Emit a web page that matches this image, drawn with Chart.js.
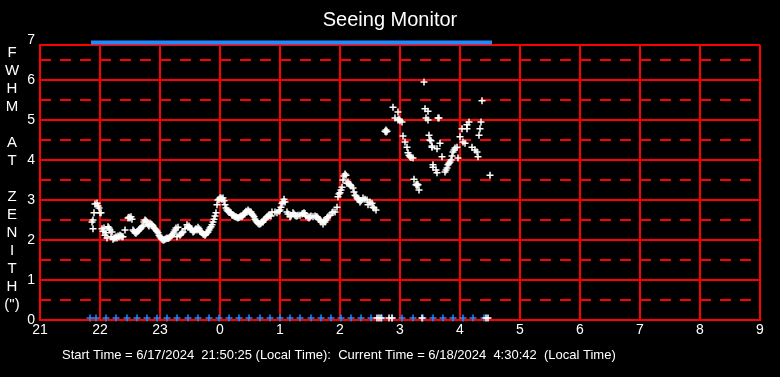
<!DOCTYPE html>
<html>
<head>
<meta charset="utf-8">
<title>Seeing Monitor</title>
<script src="https://cdn.jsdelivr.net/npm/chart.js@4.4.1/dist/chart.umd.min.js"></script>
<style>
  html, body { margin: 0; padding: 0; background: #000; }
</style>
</head>
<body>
<canvas id="seeingChart" width="780" height="377"></canvas>
<script>
// minutes after 21:00 local time
const sampleMinutes = [
  52, 53, 53, 54, 55, 57, 58, 59, 60, 61,
  62, 63, 64, 65, 66, 67, 68, 69, 70, 71,
  72, 73, 74, 75, 76, 77, 78, 79, 80, 81,
  82, 83, 85, 88, 89, 90, 91, 92, 93, 94,
  95, 96, 97, 98, 99, 100, 101, 102, 103, 104,
  105, 106, 107, 108, 109, 110, 111, 112, 113, 114,
  115, 116, 117, 118, 119, 120, 121, 122, 123, 124,
  125, 126, 127, 128, 129, 130, 131, 132, 133, 134,
  135, 136, 137, 138, 140, 141, 142, 143, 145, 147,
  148, 149, 150, 151, 152, 153, 154, 155, 156, 157,
  158, 159, 160, 161, 162, 163, 164, 165, 166, 167,
  168, 169, 170, 171, 172, 173, 174, 175, 176, 177,
  178, 179, 180, 181, 182, 183, 184, 185, 186, 187,
  188, 189, 190, 191, 192, 193, 194, 195, 196, 197,
  198, 199, 200, 201, 202, 203, 204, 205, 206, 207,
  208, 209, 210, 211, 212, 213, 214, 215, 216, 217,
  218, 219, 220, 221, 222, 223, 224, 225, 226, 227,
  228, 229, 230, 231, 232, 235, 237, 239, 240, 241,
  242, 243, 244, 245, 247, 248, 250, 251, 253, 254,
  255, 256, 257, 258, 260, 262, 263, 264, 265, 266,
  268, 269, 270, 271, 273, 275, 276, 277, 278, 279,
  280, 281, 283, 284, 285, 286, 287, 288, 290, 292,
  293, 295, 297, 298, 299, 300, 301, 302, 303, 304,
  305, 306, 307, 308, 309, 310, 311, 313, 314, 315,
  316, 317, 318, 319, 320, 321, 323, 325, 327, 328,
  330, 332, 333, 334, 336, 337, 339, 341, 345, 346,
  346, 347, 349, 352, 353, 355, 358, 358, 359, 360,
  362, 363, 365, 367, 368, 369, 370, 371, 373, 374,
  376, 377, 377, 378, 379, 382, 384, 385, 386, 388,
  388, 389, 390, 391, 392, 392, 393, 393, 396, 397,
  397, 398, 399, 400, 402, 405, 406, 407, 408, 409,
  410, 411, 412, 413, 414, 415, 417, 418, 420, 422,
  423, 425, 427, 427, 429, 432, 435, 437, 438, 439,
  440, 441, 442, 446, 448, 450
];
// FWHM at zenith (arcsec)
const fwhmValues = [
  2.45, 2.28, 2.50, 2.68, 2.90, 2.92, 2.85, 2.80, 2.68, 2.68,
  2.28, 2.22, 2.30, 2.12, 2.18, 2.05, 2.33, 2.30, 2.25, 2.08,
  2.20, 2.02, 2.05, 2.05, 2.08, 2.05, 2.10, 2.08, 2.12, 2.10,
  2.08, 2.08, 2.25, 2.55, 2.57, 2.55, 2.58, 2.52, 2.25, 2.22,
  2.18, 2.17, 2.20, 2.22, 2.25, 2.28, 2.30, 2.33, 2.35, 2.45,
  2.50, 2.48, 2.45, 2.38, 2.35, 2.40, 2.40, 2.38, 2.35, 2.30,
  2.28, 2.25, 2.22, 2.18, 2.12, 2.08, 2.05, 2.02, 2.00, 2.00,
  2.02, 2.03, 2.05, 2.04, 2.05, 2.07, 2.10, 2.12, 2.15, 2.20,
  2.25, 2.30, 2.08, 2.32, 2.12, 2.15, 2.18, 2.20, 2.28, 2.38,
  2.32, 2.35, 2.30, 2.28, 2.25, 2.20, 2.22, 2.25, 2.28, 2.25,
  2.32, 2.28, 2.22, 2.20, 2.18, 2.15, 2.14, 2.12, 2.15, 2.18,
  2.20, 2.25, 2.30, 2.33, 2.38, 2.45, 2.52, 2.60, 2.68, 2.88,
  3.00, 3.02, 3.05, 3.05, 3.02, 3.05, 2.98, 2.88, 2.80, 2.75,
  2.72, 2.70, 2.70, 2.68, 2.62, 2.62, 2.60, 2.58, 2.58, 2.56,
  2.55, 2.56, 2.58, 2.60, 2.58, 2.62, 2.65, 2.68, 2.72, 2.70,
  2.75, 2.72, 2.70, 2.70, 2.65, 2.62, 2.58, 2.52, 2.48, 2.45,
  2.42, 2.40, 2.40, 2.42, 2.45, 2.45, 2.50, 2.52, 2.55, 2.58,
  2.60, 2.62, 2.62, 2.60, 2.70, 2.70, 2.68, 2.72, 2.75, 2.82,
  2.92, 2.95, 3.02, 2.95, 2.70, 2.65, 2.58, 2.60, 2.68, 2.65,
  2.62, 2.60, 2.60, 2.62, 2.62, 2.65, 2.66, 2.68, 2.66, 2.60,
  2.57, 2.55, 2.58, 2.60, 2.58, 2.60, 2.58, 2.58, 2.55, 2.52,
  2.50, 2.45, 2.40, 2.48, 2.45, 2.50, 2.55, 2.58, 2.62, 2.68,
  2.70, 2.70, 2.82, 3.08, 3.15, 3.18, 3.25, 3.32, 3.50, 3.60,
  3.65, 3.62, 3.42, 3.45, 3.40, 3.38, 3.35, 3.30, 3.20, 3.12,
  3.10, 3.05, 3.02, 3.00, 2.95, 2.98, 3.05, 3.02, 3.00, 2.88,
  2.95, 2.92, 2.82, 2.80, 2.75, 0.05, 0.05, 0.05, 4.72, 4.70,
  4.75, 4.72, 0.05, 0.05, 5.32, 5.05, 5.20, 5.00, 5.02, 4.98,
  4.95, 4.60, 4.45, 4.32, 4.18, 4.12, 4.08, 4.06, 4.05, 3.52,
  3.38, 3.36, 3.40, 3.38, 3.25, 0.05, 5.95, 5.28, 5.05, 5.22,
  5.00, 4.62, 4.50, 4.48, 4.35, 4.32, 3.88, 3.82, 3.75, 3.68,
  4.28, 5.05, 5.05, 4.42, 4.08, 3.70, 3.75, 3.80, 3.88, 3.92,
  3.95, 4.00, 4.10, 4.20, 4.25, 4.30, 4.32, 4.05, 4.58, 4.78,
  4.45, 4.42, 4.88, 4.78, 4.95, 4.32, 4.25, 4.20, 4.08, 4.62,
  4.78, 4.95, 5.48, 0.05, 0.05, 3.62
];
// blue status marks along the bottom
const bottomMarkMinutes = [50, 56, 66, 76, 87, 97, 107, 117, 127, 137, 148, 158, 169, 179, 189, 199, 209, 220, 230, 240,
  250, 260, 271, 281, 291, 301, 311, 321, 331, 342, 352, 362, 373, 383, 393, 403, 413, 423, 433, 444];
const bottomMarkValue = 0.05;
// blue status bar along the top (start, end)
const topBarMinutes = [51, 452];
const topBarValue = 6.94;

const hourLabels = ['21', '22', '23', '0', '1', '2', '3', '4', '5', '6', '7', '8', '9'];
const yTickValues = [0, 1, 2, 3, 4, 5, 6, 6.875, 7];
const yHalfLines = [0.5, 1.5, 2.5, 3.5, 4.5, 5.5, 6.5];
const yTitleLetters = ['F', 'W', 'H', 'M', '', 'A', 'T', '', 'Z', 'E', 'N', 'I', 'T', 'H', '(")'];
const footerText = 'Start Time = 6/17/2024  21:50:25 (Local Time):  Current Time = 6/18/2024  4:30:42  (Local Time)';

const RED = '#ff0000';
const BLUE = '#1e8cff';
const FONT = 'Liberation Sans';

const sideText = {
    id: 'sideText',
    afterDraw(chart) {
        const ctx = chart.ctx;
        ctx.save();
        ctx.fillStyle = '#ffffff';
        ctx.font = '15px "' + FONT + '"';
        ctx.textAlign = 'center';
        ctx.textBaseline = 'middle';
        yTitleLetters.forEach((ch, i) => ctx.fillText(ch, 12, 53 + i * 18));
        ctx.font = '13px "' + FONT + '"';
        ctx.textAlign = 'left';
        ctx.fillText(footerText, 62, 355);
        ctx.restore();
    }
};

const ctx = document.getElementById('seeingChart').getContext('2d');
const seeingChart = new Chart(ctx, {
    type: 'scatter',
    data: {
        datasets: [{
            label: 'FWHM',
            data: sampleMinutes.map((m, i) => ({ x: m, y: fwhmValues[i] })),
            pointStyle: 'cross',
            pointRadius: 3.5,
            pointBorderWidth: 1.5,
            borderColor: '#ffffff',
            clip: false
        }, {
            label: 'bottom',
            data: bottomMarkMinutes.map(m => ({ x: m, y: bottomMarkValue })),
            pointStyle: 'cross',
            pointRadius: 3.5,
            pointBorderWidth: 1.5,
            borderColor: BLUE,
            clip: false
        }, {
            label: 'top',
            data: topBarMinutes.map(m => ({ x: m, y: topBarValue })),
            showLine: true,
            borderColor: BLUE,
            borderWidth: 4,
            pointRadius: 0,
            clip: false
        }]
    },
    options: {
        responsive: false,
        animation: false,
        events: [],
        layout: { padding: 0 },
        plugins: {
            legend: { display: false },
            tooltip: { enabled: false },
            title: {
                display: true,
                text: 'Seeing Monitor',
                color: '#ffffff',
                font: { family: FONT, size: 20, weight: 'normal' },
                padding: { top: 8, bottom: 13 }
            }
        },
        scales: {
            x: {
                type: 'linear',
                min: 0,
                max: 720,
                afterBuildTicks: s => { s.ticks = hourLabels.map((_, i) => ({ value: i * 60 })); },
                afterFit: s => { s.height = 57; },
                ticks: {
                    color: '#ffffff',
                    font: { family: FONT, size: 14 },
                    padding: 2,
                    maxRotation: 0,
                    autoSkip: false,
                    callback: v => hourLabels[Math.round(v / 60)]
                },
                grid: { color: RED, lineWidth: 2, drawTicks: false },
                border: { color: RED, width: 2 }
            },
            y: {
                type: 'linear',
                position: 'left',
                min: 0,
                max: 6.875,
                afterBuildTicks: s => { s.ticks = yTickValues.map(v => ({ value: v })); },
                afterFit: s => { s.width = 40; },
                ticks: {
                    color: '#ffffff',
                    font: { family: FONT, size: 14 },
                    padding: 5,
                    autoSkip: false,
                    callback: v => Number.isInteger(v) ? String(v) : ''
                },
                grid: {
                    color: c => (c.tick && c.tick.value > 6.9) ? 'rgba(0,0,0,0)' : RED,
                    lineWidth: 2,
                    drawTicks: false
                },
                border: { color: RED, width: 2 }
            },
            yHalf: {
                type: 'linear',
                position: 'left',
                min: 0,
                max: 6.875,
                afterBuildTicks: s => { s.ticks = yHalfLines.map(v => ({ value: v })); },
                afterFit: s => { s.width = 0; },
                ticks: { display: false },
                grid: { color: RED, lineWidth: 2, drawTicks: false },
                border: { display: false, dash: [11, 9] }
            },
            yRight: {
                type: 'linear',
                position: 'right',
                afterFit: s => { s.width = 20; },
                ticks: { display: false },
                grid: { display: false },
                border: { display: false }
            }
        }
    },
    plugins: [sideText]
});
</script>
</body>
</html>
